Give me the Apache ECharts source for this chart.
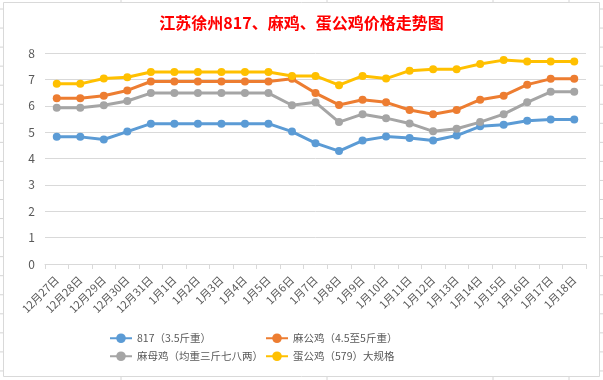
<!DOCTYPE html>
<html>
<head>
<meta charset="utf-8">
<script src="https://cdn.jsdelivr.net/npm/echarts@6/dist/echarts.min.js"></script>
<style>
html,body{margin:0;padding:0;background:#fff;}
#c{width:603px;height:380px;}
</style>
</head>
<body>
<div id="c"></div>
<script>
const categories = ['12月27日','12月28日','12月29日','12月30日','12月31日','1月1日','1月2日','1月3日','1月4日','1月5日','1月6日','1月7日','1月8日','1月9日','1月10日','1月11日','1月12日','1月13日','1月14日','1月15日','1月16日','1月17日','1月18日'];
const seriesNames = ['817（3.5斤重）','麻公鸡（4.5至5斤重）','麻母鸡（均重三斤七八两）','蛋公鸡（579）大规格'];
const s817 = [4.82,4.82,4.72,5.02,5.32,5.32,5.32,5.32,5.32,5.32,5.02,4.58,4.28,4.68,4.83,4.78,4.68,4.87,5.22,5.28,5.43,5.48,5.48];
const sMaGong = [6.28,6.28,6.38,6.58,6.92,6.92,6.92,6.92,6.92,6.92,7.02,6.48,6.03,6.23,6.13,5.84,5.68,5.84,6.23,6.38,6.8,7.02,7.02];
const sMaMu = [5.92,5.92,6.02,6.18,6.48,6.48,6.48,6.48,6.48,6.48,6.02,6.13,5.38,5.68,5.53,5.33,5.03,5.13,5.38,5.68,6.13,6.53,6.53];
const sDanGong = [6.83,6.83,7.03,7.08,7.28,7.28,7.28,7.28,7.28,7.28,7.13,7.13,6.78,7.13,7.03,7.33,7.38,7.38,7.58,7.73,7.68,7.68,7.68];
const yTicks = [0,1,2,3,4,5,6,7,8];
const titleText = '江苏徐州817、麻鸡、蛋公鸡价格走势图';

const colors = ['#5b9bd5','#ed7d31','#a5a5a5','#ffc000'];
const dataSets = [s817, sMaGong, sMaMu, sDanGong];
const FONT = '"Noto Sans CJK SC","Noto Sans",sans-serif';

// decorative spreadsheet gridlines outside chart area
const gfx = [];
for (let i = 0; i < 20; i++) {
  const y = 9 + i * 19.05;
  gfx.push({type:'line', shape:{x1:0,y1:y,x2:3,y2:y}, style:{stroke:'#d4d4d4',lineWidth:1}, silent:true});
  gfx.push({type:'line', shape:{x1:600,y1:y,x2:603,y2:y}, style:{stroke:'#d4d4d4',lineWidth:1}, silent:true});
}
[121, 327, 493, 569].forEach(x => {
  gfx.push({type:'line', shape:{x1:x,y1:0,x2:x,y2:2}, style:{stroke:'#d4d4d4',lineWidth:1}, silent:true});
  gfx.push({type:'line', shape:{x1:x,y1:377,x2:x,y2:380}, style:{stroke:'#d4d4d4',lineWidth:1}, silent:true});
});
gfx.push({type:'rect', shape:{x:3.5,y:2.5,width:596,height:374}, style:{fill:null, stroke:'#d9d9d9', lineWidth:1}, silent:true, z:-1});

const legendPos = [[109,333],[265,333],[109,351],[265,351]];
const legends = seriesNames.map((n, i) => ({
  data:[n], left:legendPos[i][0], top:legendPos[i][1],
  itemWidth:22, itemHeight:12, padding:0,
  textStyle:{color:'#595959', fontSize:10.5, fontFamily:FONT}
}));

const chart = echarts.init(document.getElementById('c'), null, {renderer:'canvas'});
chart.setOption({
  backgroundColor:'#fff',
  animation:false,
  color:colors,
  title:{
    text:titleText, left:'center', top:10,
    textStyle:{color:'#ff0000', fontSize:16, fontWeight:'bold', fontFamily:FONT}
  },
  legend:legends,
  graphic:gfx,
  grid:{left:45, right:17, top:53, bottom:116, containLabel:false},
  xAxis:{
    type:'category', data:categories, boundaryGap:true,
    axisLine:{lineStyle:{color:'#d9d9d9'}},
    axisTick:{show:true, length:5, alignWithLabel:false, lineStyle:{color:'#d9d9d9'}},
    axisLabel:{rotate:45, interval:0, color:'#595959', fontSize:11, fontFamily:FONT, margin:14}
  },
  yAxis:{
    type:'value', min:yTicks[0], max:yTicks[yTicks.length-1], interval:1,
    axisLine:{show:false}, axisTick:{show:false},
    splitLine:{lineStyle:{color:'#d9d9d9'}},
    axisLabel:{color:'#595959', fontSize:12, fontFamily:FONT, margin:10}
  },
  series:dataSets.map((d, i) => ({
    name:seriesNames[i], type:'line', data:d,
    symbol:'circle', symbolSize:8, showSymbol:true,
    lineStyle:{width:3, color:colors[i]},
    itemStyle:{color:colors[i]}
  }))
});
</script>
</body>
</html>
